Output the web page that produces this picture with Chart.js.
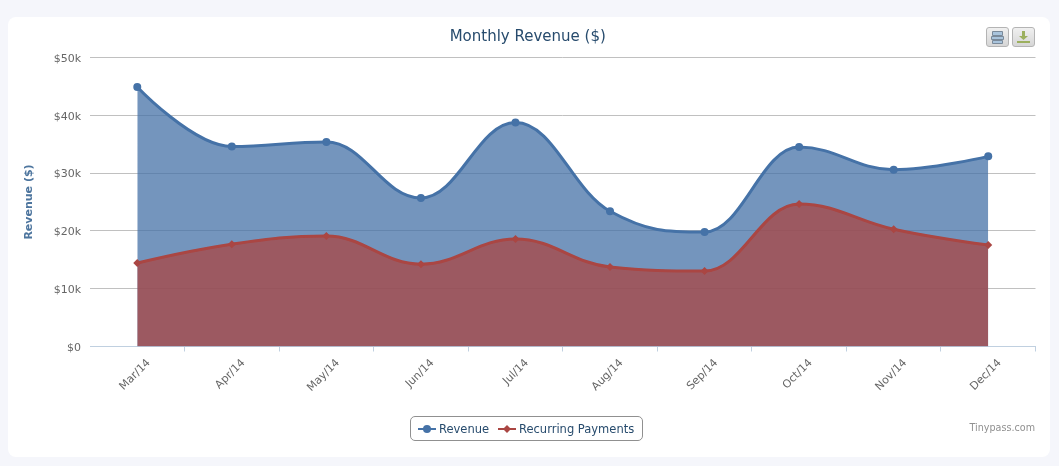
<!DOCTYPE html>
<html>
<head>
<meta charset="utf-8">
<title>Monthly Revenue</title>
<script src="https://cdn.jsdelivr.net/npm/chart.js@4/dist/chart.umd.js"></script>
<style>
  html, body { margin: 0; padding: 0; background: #f5f6fb; }
  body { width: 1059px; height: 466px; overflow: hidden; position: relative; font-family: "DejaVu Sans", sans-serif; }
  #card { position: absolute; left: 8px; top: 17px; width: 1042px; height: 440px; background: #fff; border-radius: 8px; }
  canvas { position: absolute; left: 0; top: 0; }
  .btn { position: absolute; top: 27px; width: 21px; height: 18px; border: 1px solid #b4b4b4; border-radius: 3px;
         background: linear-gradient(#f0f0f0, #d6d6d6); }
  .btn svg { display: block; }
  #legend { position: absolute; left: 410px; top: 416px; width: 231px; height: 23px; border: 1px solid #909090; border-radius: 5px;
            font-size: 11.5px; line-height: 25px; color: #274b6d; white-space: nowrap; }
  #legend span { position: absolute; top: 0; }
  #legend svg { position: absolute; top: 6px; }
  #credits { position: absolute; right: 24px; top: 422px; font-size: 9.6px; color: #909090; }
</style>
</head>
<body>
<div id="card"></div>
<canvas id="chart" width="1059" height="466"></canvas>
<div class="btn" style="left:986px">
  <svg width="21" height="18"><path d="M5.5 3.5h10v4h-10zM4.5 8.5h12v3h-12zM5.5 12.5h10v3h-10z" fill="#a9c4dc" stroke="#7a8a9a" stroke-width="1"/></svg>
</div>
<div class="btn" style="left:1012px">
  <svg width="21" height="18"><path d="M9 3h3v5h3l-4.5 4-4.5-4h3zM4 13h13v2H4z" fill="#9cb05e"/></svg>
</div>
<div id="legend">
  <svg width="18" height="12" style="left:7px"><path d="M0 6h18" stroke="#4572A7" stroke-width="2"/><circle cx="9" cy="6" r="4" fill="#4572A7"/></svg>
  <span style="left:28px">Revenue</span>
  <svg width="18" height="12" style="left:87px"><path d="M0 6h18" stroke="#AA4643" stroke-width="2"/><path d="M9 2l4 4-4 4-4-4z" fill="#AA4643"/></svg>
  <span style="left:108px">Recurring Payments</span>
</div>
<div id="credits">Tinypass.com</div>

<script>
const months = ["Mar/14", "Apr/14", "May/14", "Jun/14", "Jul/14", "Aug/14", "Sep/14", "Oct/14", "Nov/14", "Dec/14"];
const revenue = [44900, 34600, 35400, 25700, 38750, 23400, 19800, 34500, 30600, 32900];
const recurring = [14450, 17700, 19100, 14250, 18600, 13750, 13050, 24650, 20300, 17550];

const FONT = '"DejaVu Sans", sans-serif';

// the original is a Highcharts areaspline, so redo the handles its way: flat at peaks, none at the ends
const splineHandles = {
  id: "splineHandles",
  afterDatasetsUpdate(chart) {
    chart.data.datasets.forEach((ds, i) => {
      const line = chart.getDatasetMeta(i).dataset;
      line.updateControlPoints(chart.chartArea, "x");
      const pts = line.points;
      pts.forEach((p, n) => {
        const last = pts[n - 1];
        const next = pts[n + 1];
        if (!last || !next) {
          p.cp1x = p.cp2x = p.x;
          p.cp1y = p.cp2y = p.y;
          return;
        }
        const leftX = (1.5 * p.x + last.x) / 2.5;
        const rightX = (1.5 * p.x + next.x) / 2.5;
        let leftY = (1.5 * p.y + last.y) / 2.5;
        let rightY = (1.5 * p.y + next.y) / 2.5;
        const correction = ((rightY - leftY) * (rightX - p.x)) / (rightX - leftX) + p.y - rightY;
        leftY += correction;
        rightY += correction;
        if ((leftY > last.y && leftY > p.y) || (leftY < last.y && leftY < p.y)) {
          leftY = leftY > p.y ? Math.max(last.y, p.y) : Math.min(last.y, p.y);
          rightY = 2 * p.y - leftY;
        }
        if ((rightY > next.y && rightY > p.y) || (rightY < next.y && rightY < p.y)) {
          rightY = rightY > p.y ? Math.max(next.y, p.y) : Math.min(next.y, p.y);
          leftY = 2 * p.y - rightY;
        }
        p.cp1x = leftX;
        p.cp1y = leftY;
        p.cp2x = rightX;
        p.cp2y = rightY;
      });
    });
  },
};

new Chart(document.getElementById("chart").getContext("2d"), {
  type: "line",
  plugins: [splineHandles],
  data: {
    labels: months,
    datasets: [
      {
        label: "Revenue",
        data: revenue,
        order: 2,
        fill: "origin",
        cubicInterpolationMode: "monotone",
        borderColor: "#4572A7",
        backgroundColor: "rgba(69, 114, 167, 0.75)",
        borderWidth: 3,
        pointStyle: "circle",
        pointRadius: 4,
        pointBackgroundColor: "#4572A7",
        pointBorderColor: "#4572A7",
        pointBorderWidth: 0,
      },
      {
        label: "Recurring Payments",
        data: recurring,
        order: 1,
        fill: "origin",
        cubicInterpolationMode: "monotone",
        borderColor: "#AA4643",
        backgroundColor: "rgba(170, 70, 67, 0.75)",
        borderWidth: 3,
        pointStyle: "rectRot",
        pointRadius: 4,
        pointBackgroundColor: "#AA4643",
        pointBorderColor: "#AA4643",
        pointBorderWidth: 0,
      },
    ],
  },
  options: {
    responsive: false,
    animation: false,
    layout: { padding: { left: 20, right: 23.5, top: 0, bottom: 0 } },
    plugins: {
      legend: { display: false },
      tooltip: { enabled: false },
      title: {
        display: true,
        text: "Monthly Revenue ($)",
        color: "#274b6d",
        font: { family: FONT, size: 15, weight: "normal" },
        padding: { top: 28.5, bottom: 11 },
      },
    },
    scales: {
      x: {
        offset: true,
        afterFit: (scale) => { scale.height = 119.5; },
        border: { color: "#C0D0E0" },
        grid: {
          offset: true,
          drawOnChartArea: false,
          color: (ctx) => (ctx.index === 0 ? "transparent" : "#C0D0E0"),
          tickLength: 5,
        },
        ticks: {
          autoSkip: false,
          minRotation: 45,
          maxRotation: 45,
          labelOffset: 11.5,
          padding: 5,
          color: "#666",
          font: { family: FONT, size: 11 },
        },
      },
      y: {
        min: 0,
        max: 50000,
        afterFit: (scale) => { scale.width = 70; },
        border: { display: false },
        grid: { color: "#C0C0C0", tickLength: 0 },
        ticks: {
          stepSize: 10000,
          padding: 9,
          labelOffset: 1.5,
          color: "#666",
          font: { family: FONT, size: 11 },
          callback: (value) => (value === 0 ? "$0" : "$" + value / 1000 + "k"),
        },
        title: {
          display: true,
          text: "Revenue ($)",
          color: "#4d759e",
          font: { family: FONT, size: 11, weight: "bold" },
          padding: { top: 3, bottom: 0 },
        },
      },
    },
  },
});
</script>
</body>
</html>
